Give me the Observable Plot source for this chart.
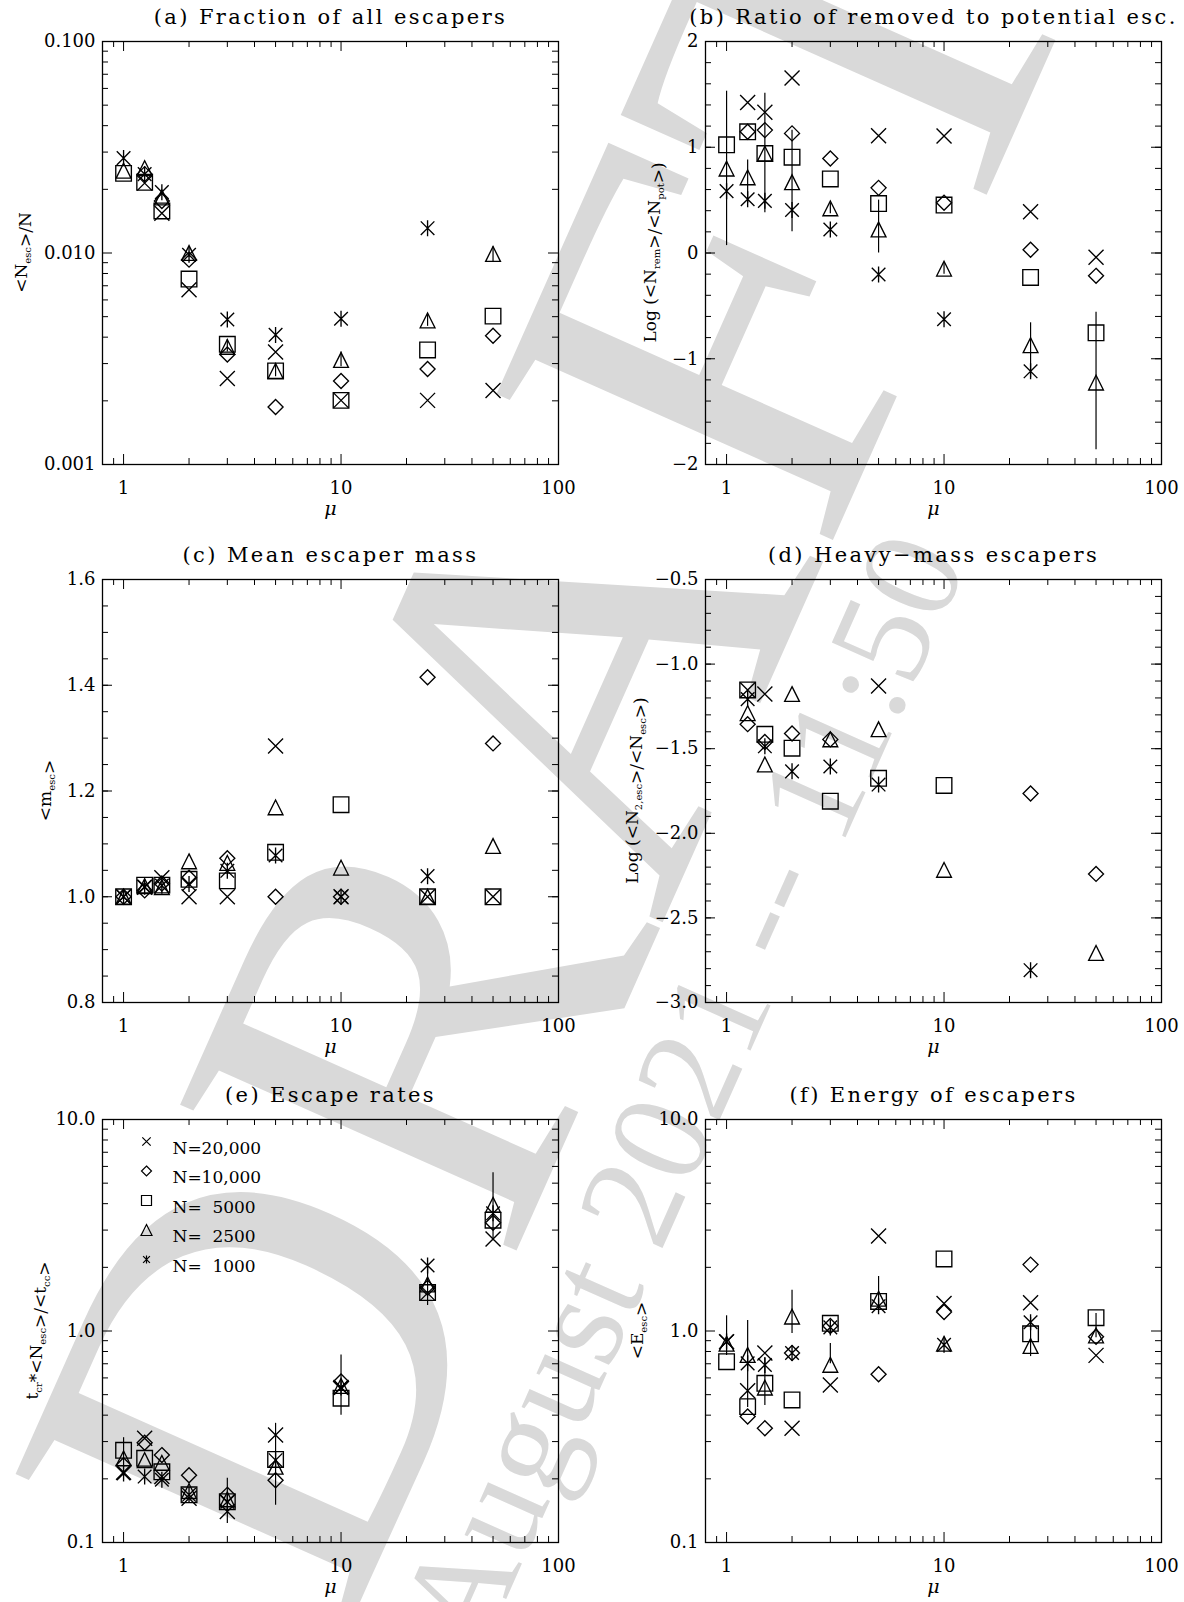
<!DOCTYPE html>
<html><head><meta charset="utf-8">
<script src="https://cdn.jsdelivr.net/npm/d3@7"></script>
<script src="https://cdn.jsdelivr.net/npm/@observablehq/plot@0.6"></script>
<style>
body{margin:0;background:#fff;}
#page{position:relative;width:1184px;height:1602px;overflow:hidden;background:#fff;}
#wm{position:absolute;left:0;top:0;}
.panel{position:absolute;}
</style></head><body><div id="page"><svg id="wm" width="1184" height="1602"></svg></div>
<script>
// ---------------- data ----------------
const mu = [1, 1.25, 1.5, 2, 3, 5, 10, 25, 50];
const seriesLabels = ["N=20,000", "N=10,000", "N=  5000", "N=  2500", "N=  1000"];

// (a) <N_esc>/N
const aN20000 = [null, 0.0214, 0.0154, 0.0067, 0.00255, 0.0034, 0.00201, 0.00201, 0.00224];
const aN10000 = [null, 0.0236, 0.0176, 0.0093, 0.00331, 0.00187, 0.00248, 0.00283, 0.00406];
const aN5000  = [0.0238, 0.0216, 0.0158, 0.00753, 0.0037, 0.00277, 0.00201, 0.00348, 0.00503];
const aN2500  = [0.0245, 0.0252, 0.0183, 0.0100, 0.0036, 0.00277, 0.00312, 0.0048, 0.0099];
const aN1000  = [0.0281, 0.0236, 0.0194, 0.0098, 0.00485, 0.0041, 0.00489, 0.0131, null];
const aErrMu = [3, 5, 10, 25, 50];
const aErrLo = [0.0034, 0.0026, 0.0029, 0.0045, 0.0091];
const aErrHi = [0.0039, 0.0030, 0.0034, 0.0051, 0.0107];

// (b) Log(<N_rem>/<N_pot>)
const bN20000 = [null, 1.424, 1.331, 1.655, null, 1.109, 1.106, 0.391, -0.04];
const bN10000 = [null, 1.146, 1.162, 1.131, 0.894, 0.616, 0.475, 0.031, -0.216];
const bN5000  = [1.023, 1.146, 0.94, 0.906, 0.70, 0.468, 0.453, -0.231, -0.755];
const bN2500  = [0.798, 0.715, 0.94, 0.669, 0.422, 0.222, -0.148, -0.872, -1.226];
const bN1000  = [0.585, 0.508, 0.493, 0.407, 0.222, -0.203, -0.626, -1.119, null];
const bErrMu = [1, 1.25, 1.5, 2, 3, 5, 10, 25, 50];
const bErrLo = [0.07, 0.47, 0.38, 0.20, 0.37, 0.0, -0.20, -1.18, -1.86];
const bErrHi = [1.53, 0.88, 1.51, 1.16, 0.47, 0.50, -0.10, -0.66, -0.56];

// (c) <m_esc>
const cN20000 = [1.0, 1.018, 1.036, 1.0, 1.0, 1.285, 1.0, 1.0, 1.0];
const cN10000 = [1.0, 1.012, 1.025, 1.036, 1.073, 1.0, 1.0, 1.415, 1.290];
const cN5000  = [1.0, 1.022, 1.022, 1.033, 1.030, 1.084, 1.174, 1.0, 1.0];
const cN2500  = [1.0, 1.020, 1.018, 1.067, 1.064, 1.169, 1.055, 1.0, 1.096];
const cN1000  = [1.0, 1.019, 1.021, 1.024, 1.049, 1.078, 1.0, 1.039, null];

// (d) Log(<N_2,esc>/<N_esc>)
const dN20000 = [null, -1.153, -1.177, null, null, -1.13, null, null, null];
const dN10000 = [null, -1.355, -1.46, -1.41, -1.445, null, null, -1.765, -2.24];
const dN5000  = [null, -1.153, -1.415, -1.497, -1.81, -1.675, -1.717, null, null];
const dN2500  = [null, -1.29, -1.593, -1.177, -1.445, -1.385, -2.216, null, -2.707];
const dN1000  = [null, -1.207, -1.486, -1.634, -1.605, -1.712, null, -2.809, null];

// (e) t_cr*<N_esc>/<t_cc>
const eN20000 = [0.215, 0.311, 0.205, 0.162, 0.140, 0.322, 0.54, 1.51, 2.72];
const eN10000 = [0.232, 0.296, 0.259, 0.208, 0.168, 0.197, 0.577, 1.60, 3.25];
const eN5000  = [0.273, 0.250, 0.216, 0.168, 0.156, 0.247, 0.481, 1.52, 3.34];
const eN2500  = [0.250, 0.245, 0.238, 0.175, 0.160, 0.228, 0.55, 1.66, 3.95];
const eN1000  = [0.212, 0.205, 0.198, 0.168, 0.156, 0.245, 0.54, 2.04, 3.6];
const eErrMu = [1, 3, 5, 10, 25, 50];
const eErrLo = [0.226, 0.123, 0.150, 0.40, 1.32, 2.67];
const eErrHi = [0.313, 0.201, 0.366, 0.77, 2.0, 5.6];

// (f) <E_esc>
const fN20000 = [0.89, 0.522, 0.787, 0.347, 0.556, 2.81, 1.35, 1.36, 0.767];
const fN10000 = [null, 0.394, 0.347, 0.787, 1.056, 0.624, 1.23, 2.06, 0.94];
const fN5000  = [0.716, 0.439, 0.566, 0.472, 1.087, 1.38, 2.19, 0.97, 1.156];
const fN2500  = [0.87, 0.77, 0.54, 1.17, 0.692, 1.42, 0.87, 0.85, 0.953];
const fN1000  = [0.891, 0.703, 0.691, 0.787, 1.04, 1.31, 0.86, 1.10, null];
const fErrMu = [1, 1.25, 1.5, 2, 3, 5, 25, 50];
const fErrLo = [0.766, 0.435, 0.444, 0.973, 0.70, 1.25, 0.757, 0.93];
const fErrHi = [1.18, 1.12, 0.741, 1.56, 0.873, 1.81, 1.16, 1.21];

// ticks
const xMajor = [1, 10, 100];
const xMinor = [0.9, 2, 3, 4, 5, 6, 7, 8, 9, 20, 30, 40, 50, 60, 70, 80, 90];
const logMinor = (a, b) => { const r = []; for (let e = a; e < b; e++) for (let k = 2; k <= 9; k++) r.push(k * Math.pow(10, e)); return r; };
const range = (a, b, s) => { const r = []; for (let v = a; v <= b + 1e-9; v += s) r.push(+v.toFixed(4)); return r; };

// ---------------- symbols ----------------
const rad = size => Math.sqrt(size / Math.PI);
const symX = {draw(c, size) { const s = rad(size); c.moveTo(-s, -s); c.lineTo(s, s); c.moveTo(-s, s); c.lineTo(s, -s); }};
const symDiamond = {draw(c, size) { const s = rad(size); c.moveTo(0, -s); c.lineTo(s, 0); c.lineTo(0, s); c.lineTo(-s, 0); c.closePath(); }};
const symSquare = {draw(c, size) { const s = rad(size); c.moveTo(-s, -s); c.lineTo(s, -s); c.lineTo(s, s); c.lineTo(-s, s); c.closePath(); }};
const symTriangle = {draw(c, size) { const s = rad(size); c.moveTo(0, -s); c.lineTo(s, s); c.lineTo(-s, s); c.closePath(); }};
const symAst = {draw(c, size) { const s = rad(size); const d = s * 0.85; c.moveTo(0, -s); c.lineTo(0, s); c.moveTo(-d, -d); c.lineTo(d, d); c.moveTo(-d, d); c.lineTo(d, -d); }};
const symbols = [symX, symDiamond, symSquare, symTriangle, symAst];
const symR = [7.5, 7.5, 7.8, 7.4, 8];

const FONT = "DejaVu Serif";
const W = 592, H = 540, MT = 41, FH = 423, MB = H - MT - FH;
const TL = 10, TS = 6;

function panel(opt) {
  const {left, top, ml, title, ytype, ydomain, yMajor, yMinor, yFmt, series, errMu, errLo, errHi, ylabel, ylabelX, legend} = opt;
  const mr = W - ml - 456;
  const FW = 456;
  const marks = [];
  marks.push(Plot.tickX(xMajor, {x: d => d, insetTop: FH - TL, stroke: "black"}));
  marks.push(Plot.tickX(xMajor, {x: d => d, insetBottom: FH - TL, stroke: "black"}));
  marks.push(Plot.tickX(xMinor, {x: d => d, insetTop: FH - TS, stroke: "black"}));
  marks.push(Plot.tickX(xMinor, {x: d => d, insetBottom: FH - TS, stroke: "black"}));
  marks.push(Plot.tickY(yMajor, {y: d => d, insetRight: FW - TL, stroke: "black"}));
  marks.push(Plot.tickY(yMajor, {y: d => d, insetLeft: FW - TL, stroke: "black"}));
  marks.push(Plot.tickY(yMinor, {y: d => d, insetRight: FW - TS, stroke: "black"}));
  marks.push(Plot.tickY(yMinor, {y: d => d, insetLeft: FW - TS, stroke: "black"}));
  marks.push(Plot.frame({stroke: "black", strokeWidth: 1.3}));
  marks.push(Plot.text(xMajor, {x: d => d, frameAnchor: "bottom", dy: 29, text: d => String(d), fontSize: 18, fontFamily: FONT, fill: "black"}));
  marks.push(Plot.text(yMajor, {y: d => d, frameAnchor: "left", dx: -7, textAnchor: "end", text: yFmt, fontSize: 18, fontFamily: FONT, fill: "black"}));
  marks.push(Plot.text([title], {frameAnchor: "top", dy: -32, fontSize: 21, fontFamily: FONT, fill: "black", text: d => d}));
  marks.push(Plot.text(["μ"], {frameAnchor: "bottom", dy: 50, fontSize: 19, fontFamily: FONT, fontStyle: "italic", fill: "black", text: d => d}));
  if (errMu) {
    const err = errMu.map((m, i) => ({mu: m, lo: errLo[i], hi: errHi[i]}));
    marks.push(Plot.ruleX(err, {x: "mu", y1: "lo", y2: "hi", stroke: "black", strokeWidth: 1.2}));
  }
  series.forEach((vals, k) => {
    const pts = mu.map((m, i) => ({mu: m, v: vals[i]})).filter(d => d.v != null);
    marks.push(Plot.dot(pts, {x: "mu", y: "v", symbol: symbols[k], r: symR[k], stroke: "black", strokeWidth: 1.35, fill: "none"}));
  });
  if (legend) {
    const lsz = [4.2, 5, 5, 5.5, 4];
    seriesLabels.forEach((lab, i) => {
      marks.push(Plot.dot([lab], {frameAnchor: "top-left", dx: 44, dy: 22 + 29.5 * i, symbol: symbols[i], r: lsz[i], stroke: "black", strokeWidth: 1.2, fill: "none"}));
      marks.push(Plot.text([lab], {frameAnchor: "top-left", dx: 70, dy: 22 + 29.5 * i, textAnchor: "start", text: d => d, fontSize: 17, fontFamily: FONT, fill: "black"}));
    });
  }
  const svg = Plot.plot({
    width: W, height: H, marginLeft: ml, marginRight: mr, marginTop: MT, marginBottom: MB,
    style: {background: "transparent", fontFamily: FONT, overflow: "visible"},
    x: {type: "log", domain: [0.8, 100], axis: null},
    y: {type: ytype, domain: ydomain, axis: null},
    marks
  });
  const div = document.createElement("div");
  div.className = "panel";
  div.style.left = left + "px"; div.style.top = top + "px";
  div.appendChild(svg);
  document.getElementById("page").appendChild(div);
  const s = d3.select(svg);
  s.selectAll("text").filter(function() { return this.textContent === title; }).style("letter-spacing", "2.4px");
  const t = s.append("text")
    .attr("transform", `translate(${ylabelX},${MT + FH / 2}) rotate(-90)`)
    .attr("text-anchor", "middle").attr("font-family", FONT).attr("font-size", 17).attr("fill", "black");
  ylabel.forEach(([str, sub]) => {
    if (sub) {
      t.append("tspan").attr("font-size", 10).attr("dy", 4).text(str);
      t.append("tspan").attr("dy", -4).text("");
    } else t.append("tspan").text(str);
  });
}

const fmtFixed = n => d => (d < 0 ? "−" : "") + Math.abs(d).toFixed(n);

panel({left: 0, top: 0, ml: 102, title: "(a) Fraction of all escapers", ytype: "log", ydomain: [0.001, 0.1],
  yMajor: [0.001, 0.01, 0.1], yMinor: logMinor(-3, -1), yFmt: fmtFixed(3),
  series: [aN20000, aN10000, aN5000, aN2500, aN1000], errMu: aErrMu, errLo: aErrLo, errHi: aErrHi,
  ylabel: [["<N"], ["esc", true], [">/N"]], ylabelX: 27});
panel({left: 592, top: 0, ml: 113, title: "(b) Ratio of removed to potential esc.", ytype: "linear", ydomain: [-2, 2],
  yMajor: [-2, -1, 0, 1, 2], yMinor: range(-2, 2, 0.2), yFmt: d => (d < 0 ? "−" : "") + Math.abs(d),
  series: [bN20000, bN10000, bN5000, bN2500, bN1000], errMu: bErrMu, errLo: bErrLo, errHi: bErrHi,
  ylabel: [["Log (<N"], ["rem", true], [">/<N"], ["pot", true], [">)"]], ylabelX: 64});
panel({left: 0, top: 538, ml: 102, title: "(c) Mean escaper mass", ytype: "linear", ydomain: [0.8, 1.6],
  yMajor: [0.8, 1.0, 1.2, 1.4, 1.6], yMinor: range(0.8, 1.6, 0.05), yFmt: fmtFixed(1),
  series: [cN20000, cN10000, cN5000, cN2500, cN1000],
  ylabel: [["<m"], ["esc", true], [">"]], ylabelX: 51});
panel({left: 592, top: 538, ml: 113, title: "(d) Heavy−mass escapers", ytype: "linear", ydomain: [-3, -0.5],
  yMajor: [-3, -2.5, -2, -1.5, -1, -0.5], yMinor: range(-3, -0.5, 0.1), yFmt: fmtFixed(1),
  series: [dN20000, dN10000, dN5000, dN2500, dN1000],
  ylabel: [["Log (<N"], ["2,esc", true], [">/<N"], ["esc", true], [">)"]], ylabelX: 46});
panel({left: 0, top: 1078, ml: 102, title: "(e) Escape rates", ytype: "log", ydomain: [0.1, 10],
  yMajor: [0.1, 1, 10], yMinor: logMinor(-1, 1), yFmt: fmtFixed(1),
  series: [eN20000, eN10000, eN5000, eN2500, eN1000], errMu: eErrMu, errLo: eErrLo, errHi: eErrHi,
  ylabel: [["t"], ["cr", true], ["*<N"], ["esc", true], [">/<t"], ["cc", true], [">"]], ylabelX: 38, legend: true});
panel({left: 592, top: 1078, ml: 113, title: "(f) Energy of escapers", ytype: "log", ydomain: [0.1, 10],
  yMajor: [0.1, 1, 10], yMinor: logMinor(-1, 1), yFmt: fmtFixed(1),
  series: [fN20000, fN10000, fN5000, fN2500, fN1000], errMu: fErrMu, errLo: fErrLo, errHi: fErrHi,
  ylabel: [["<E"], ["esc", true], [">"]], ylabelX: 51});

// ---------------- watermark ----------------
const wmText = ["DRAFT", "5 August 2021 -- 11:50"];
const wm = d3.select("#wm");
wm.append("text").attr("transform", "translate(344,1638) rotate(-66)")
  .attr("font-family", "Liberation Serif").attr("font-size", 560).attr("fill", "#d9d9d9").text(wmText[0]);
wm.append("text").attr("transform", "translate(968,562) rotate(-66)").attr("text-anchor", "end")
  .attr("font-family", "Liberation Serif").attr("font-size", 140).attr("fill", "#d9d9d9").text(wmText[1]);
</script></body></html>
